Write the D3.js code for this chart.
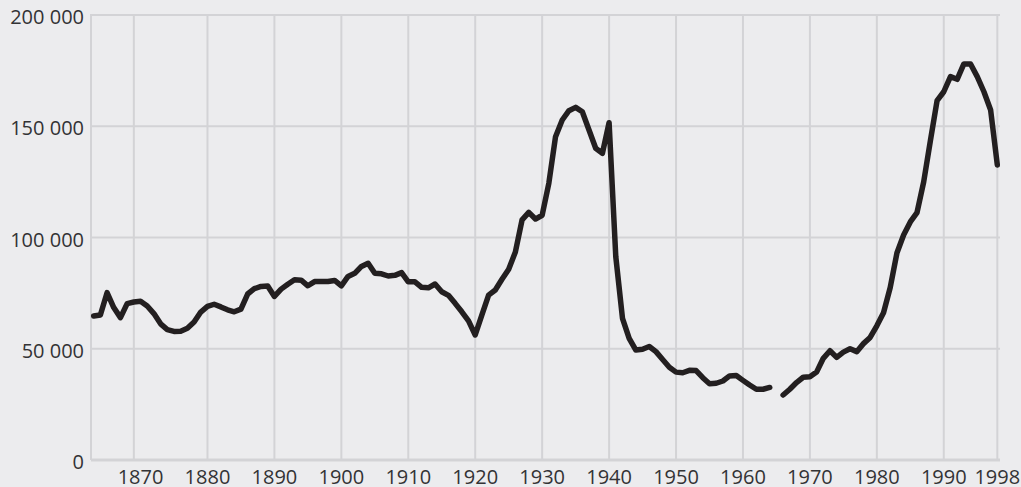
<!DOCTYPE html>
<html>
<head>
<meta charset="utf-8">
<script src="https://cdn.jsdelivr.net/npm/d3@7"></script>
<style>
  html, body { margin: 0; padding: 0; background: #ececee; }
  svg { display: block; }
  text { font-family: "Open Sans", "Noto Sans", sans-serif; fill: #333335; }
</style>
</head>
<body>
<svg id="chart" width="1021" height="487"></svg>
<script>
// ---- data ----
const startYear = 1863;
const values = [
  64700, 65200, 75200, 68500, 64000, 70300, 71000,            // 1863-1869
  71300, 69200, 65800, 61200, 58600, 57800, 57900, 59200, 62000, 66500, // 1870s
  69000, 70000, 68800, 67500, 66600, 67800, 74600, 77000, 78000, 78200, // 1880s
  73500, 76800, 79000, 81000, 80800, 78300, 80200, 80200, 80200, 80700, // 1890s
  78300, 82500, 83900, 87000, 88400, 83900, 83700, 82700, 83000, 84200, // 1900s
  80100, 80100, 77600, 77400, 79100, 75600, 74000, 70400, 66600, 62500, // 1910s
  56200, 65200, 74100, 76400, 81200, 85700, 93500, 107900, 111300, 108300, // 1920s
  110000, 124400, 145300, 152800, 157000, 158500, 156500, 148300, 140100, 137800, // 1930s
  151600, 91400, 63700, 54700, 49400, 49800, 51000, 48700, 45200, 41700, // 1940s
  39500, 39200, 40300, 40200, 37000, 34300, 34500, 35500, 37800, 38000, // 1950s
  35800, 33700, 31800, 31800, 32600, null, 29200, 31800, 34800, 37200, // 1960s
  37400, 39500, 45700, 49100, 46100, 48500, 50000, 48700, 52300, 55100, // 1970s
  60300, 66200, 77500, 93000, 101100, 107000, 111200, 125000, 143500, 161500, // 1980s
  165500, 172300, 171100, 178000, 178000, 172300, 165500, 157300, 132600 // 1990-1998
];
const xTickYears = [1870, 1880, 1890, 1900, 1910, 1920, 1930, 1940, 1950, 1960, 1970, 1980, 1990, 1998];
const xGridYears = [1869, 1880, 1890, 1900, 1910, 1920, 1930, 1940, 1950, 1960, 1970, 1980, 1990, 1998];
const yTicks = [0, 50000, 100000, 150000, 200000];

// ---- layout ----
const svg = d3.select("#chart");
const plotL = 91, plotR = 1000, plotT = 15, plotB = 460;
const x = d3.scaleLinear().domain([1862.6, 1998.4]).range([plotL, plotR]);
const y = d3.scaleLinear().domain([0, 200000]).range([plotB, plotT]);
const fmt = d3.formatLocale({ decimal: ",", thousands: " ", grouping: [3], currency: ["", ""] }).format(",d");

const gridColor = "#d3d3d6";

// horizontal grid
svg.append("g").selectAll("line").data(yTicks).join("line")
  .attr("x1", plotL).attr("x2", plotR)
  .attr("y1", d => y(d)).attr("y2", d => y(d))
  .attr("stroke", gridColor).attr("stroke-width", d => d === 0 ? 3 : 2);

// left border
svg.append("line")
  .attr("x1", plotL).attr("x2", plotL).attr("y1", plotT - 1).attr("y2", plotB)
  .attr("stroke", gridColor).attr("stroke-width", 2);

// vertical grid
svg.append("g").selectAll("line").data(xGridYears).join("line")
  .attr("x1", d => x(d)).attr("x2", d => x(d))
  .attr("y1", plotT).attr("y2", plotB)
  .attr("stroke", gridColor).attr("stroke-width", 2);

// y labels
svg.append("g").selectAll("text").data(yTicks).join("text")
  .attr("x", plotL - 7).attr("y", d => y(d) + 2)
  .attr("dy", "0.35em")
  .attr("text-anchor", "end")
  .attr("font-size", 20)
  .text(d => fmt(d));

// x labels
svg.append("g").selectAll("text").data(xTickYears).join("text")
  .attr("x", d => x(d)).attr("y", 484)
  .attr("text-anchor", "middle")
  .attr("font-size", 20)
  .text(d => d);

// line
const data = values.map((v, i) => ({ year: startYear + i, value: v }));
const line = d3.line()
  .defined(d => d.value !== null)
  .x(d => x(d.year))
  .y(d => y(d.value));

svg.append("path")
  .datum(data)
  .attr("d", line)
  .attr("fill", "none")
  .attr("stroke", "#231f20")
  .attr("stroke-width", 5.5)
  .attr("stroke-linejoin", "round")
  .attr("stroke-linecap", "round");
</script>
</body>
</html>
